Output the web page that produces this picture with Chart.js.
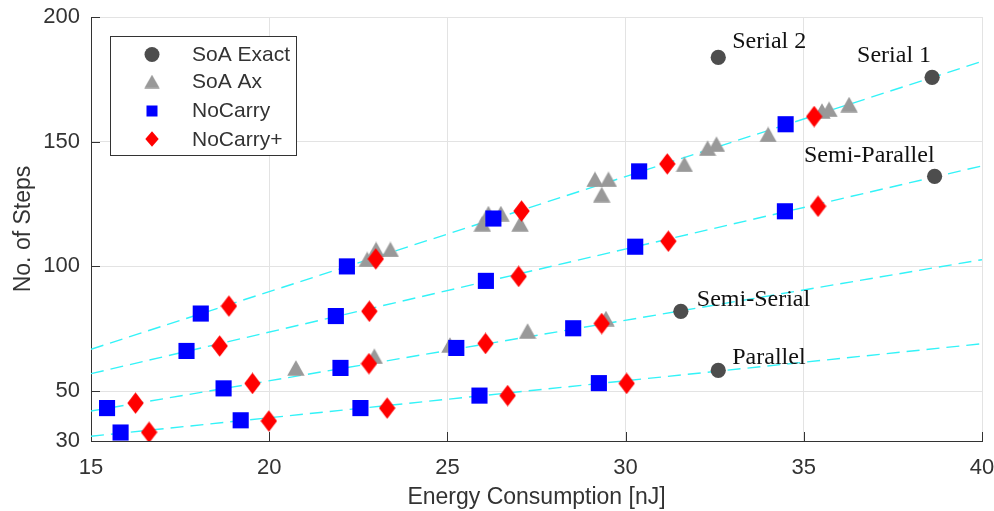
<!DOCTYPE html>
<html>
<head>
<meta charset="utf-8">
<script src="https://cdn.jsdelivr.net/npm/chart.js@4.4.0/dist/chart.umd.min.js"></script>
<style>
html,body{margin:0;padding:0;background:#fff;}
#wrap{width:994px;height:511px;position:relative;}
</style>
</head>
<body>
<div id="wrap"><canvas id="c" width="994" height="511"></canvas></div>
<script>
// ---------- data ----------
const seriesNames = ['SoA Exact', 'SoA Ax', 'NoCarry', 'NoCarry+'];
const xTicks = [15, 20, 25, 30, 35, 40];
const yTicks = [30, 50, 100, 150, 200];

const exactX = [32.6, 38.6, 38.67, 31.55, 32.6];
const exactY = [183.8, 175.8, 136.1, 82.0, 58.3];
const exactNames = ['Serial 2', 'Serial 1', 'Semi-Parallel', 'Semi-Serial', 'Parallel'];

const axX = [20.75, 22.95, 25.07, 27.25, 29.45, 22.75, 23.0, 23.4, 25.98, 26.15, 26.5, 27.04, 29.14, 29.52, 29.33, 31.65, 32.3, 32.55, 34.0, 35.51, 35.71, 36.27];
const axY = [59.3, 64.0, 68.5, 74.1, 79.1, 102.8, 106.8, 106.8, 117.1, 121.2, 121.2, 117.1, 134.9, 134.9, 128.8, 140.9, 147.4, 149.0, 152.9, 162.3, 163.0, 164.9];

const noCarryX = [15.45, 15.83, 17.68, 18.08, 18.72, 19.2, 21.87, 22.0, 22.18, 22.56, 25.25, 25.9, 26.08, 26.29, 28.53, 29.25, 30.27, 30.38, 34.47, 34.49];
const noCarryY = [43.2, 33.4, 66.1, 81.1, 51.1, 38.3, 80.1, 59.3, 100.0, 43.2, 67.3, 48.2, 94.2, 119.2, 75.2, 53.2, 107.9, 138.1, 122.1, 157.0];

const noCarryPX = [16.25, 16.63, 18.61, 18.87, 19.53, 19.99, 22.81, 22.8, 22.99, 23.31, 26.07, 26.69, 27.0, 27.08, 29.33, 30.03, 31.2, 31.17, 35.4, 35.29];
const noCarryPY = [45.2, 33.5, 68.1, 84.1, 53.1, 38.0, 82.0, 61.0, 103.0, 43.2, 69.1, 48.2, 96.0, 122.2, 77.1, 53.1, 110.1, 141.1, 124.1, 160.1];

// dashed trend lines (end points)
const trendX = [15, 40];
const trendSerial = [66.8, 182.2];
const trendSemiParallel = [57.0, 140.3];
const trendSemiSerial = [42.0, 102.7];
const trendParallel = [31.9, 69.0];

// ---------- styles ----------
const SANS = "'Liberation Sans', Arial, Helvetica, sans-serif";
const SERIF = "'Liberation Serif', 'Times New Roman', serif";
const C_EXACT = '#4d4d4d', C_AX = '#999999', C_NC = '#0000ff', C_NCP = '#ff0000';
const TXT = '#333333';

function makeTriangle(w, h, color) {
  const c = document.createElement('canvas');
  c.width = w; c.height = h;
  const g = c.getContext('2d');
  g.fillStyle = color;
  g.beginPath();
  g.moveTo(w / 2, 0.3);
  g.lineTo(w - 0.3, h - 0.3);
  g.lineTo(0.3, h - 0.3);
  g.closePath();
  g.fill();
  return c;
}
function makeDiamond(w, h, color) {
  const c = document.createElement('canvas');
  c.width = w; c.height = h;
  const g = c.getContext('2d');
  g.fillStyle = color;
  g.beginPath();
  g.moveTo(w / 2, 0.3);
  g.lineTo(w - 0.3, h / 2);
  g.lineTo(w / 2, h - 0.3);
  g.lineTo(0.3, h / 2);
  g.closePath();
  g.fill();
  return c;
}
const triImg = makeTriangle(18, 16, C_AX);
const diaImg = makeDiamond(17, 22, C_NCP);

const pts = (xs, ys) => xs.map((x, i) => ({ x: x, y: ys[i] }));
const trend = (ys) => ({
  type: 'line',
  data: pts(trendX, ys),
  borderColor: '#33f3f8',
  borderWidth: 1.4,
  borderDash: [13, 7],
  pointRadius: 0,
  fill: false,
  order: 10
});

const extras = {
  id: 'extras',
  beforeDatasetsDraw(chart) {
    const ctx = chart.ctx;
    const xs = chart.scales.x, ys = chart.scales.y;
    const a = chart.chartArea;
    ctx.save();
    ctx.strokeStyle = '#333';
    ctx.lineWidth = 1;
    ctx.beginPath();
    xTicks.forEach(v => {
      const px = Math.round(xs.getPixelForValue(v)) + 0.5;
      ctx.moveTo(px, a.bottom);
      ctx.lineTo(px, a.bottom - 9);
    });
    yTicks.forEach(v => {
      const py = Math.round(ys.getPixelForValue(v)) + 0.5;
      ctx.moveTo(a.left, py);
      ctx.lineTo(a.left + 9, py);
    });
    ctx.stroke();
    ctx.restore();
  },
  afterDraw(chart) {
    const ctx = chart.ctx;
    const xs = chart.scales.x, ys = chart.scales.y;
    ctx.save();
    // annotations next to SoA Exact points
    const offs = [
      { dx: 14, dy: -9, align: 'left' },
      { dx: -1, dy: -15, align: 'right' },
      { dx: 0, dy: -14, align: 'right' },
      { dx: 16, dy: -5, align: 'left' },
      { dx: 14, dy: -6, align: 'left' }
    ];
    ctx.font = "24px " + SERIF;
    ctx.fillStyle = '#111';
    ctx.textBaseline = 'alphabetic';
    exactNames.forEach((name, i) => {
      const px = xs.getPixelForValue(exactX[i]);
      const py = ys.getPixelForValue(exactY[i]);
      ctx.textAlign = offs[i].align;
      ctx.fillText(name, px + offs[i].dx, py + offs[i].dy);
    });

    // legend box
    const L = { x: 110.5, y: 36.5, w: 186, h: 119 };
    ctx.fillStyle = '#fff';
    ctx.fillRect(L.x, L.y, L.w, L.h);
    ctx.strokeStyle = '#333';
    ctx.lineWidth = 1;
    ctx.strokeRect(L.x, L.y, L.w, L.h);
    const rows = [54.5, 81.5, 110.5, 139];
    const mx = 152, tx = 192;
    ctx.fillStyle = C_EXACT;
    ctx.beginPath(); ctx.arc(mx, rows[0], 7.5, 0, Math.PI * 2); ctx.fill();
    ctx.drawImage(makeTriangle(16, 14, C_AX), mx - 8, rows[1] - 7);
    ctx.fillStyle = C_NC;
    ctx.fillRect(mx - 5.5, rows[2] - 5, 11, 11);
    ctx.drawImage(makeDiamond(14, 16, C_NCP), mx - 7, rows[3] - 8);
    ctx.font = "21px " + SANS;
    ctx.fillStyle = TXT;
    ctx.textAlign = 'left';
    ctx.textBaseline = 'middle';
    seriesNames.forEach((n, i) => ctx.fillText(n, tx, rows[i] + 1));
    ctx.restore();
  }
};

new Chart(document.getElementById('c'), {
  type: 'scatter',
  data: {
    datasets: [
      { label: seriesNames[3], data: pts(noCarryPX, noCarryPY), pointStyle: diaImg, backgroundColor: C_NCP, order: 0 },
      { label: seriesNames[2], data: pts(noCarryX, noCarryY), pointStyle: 'rect', pointRadius: 11.4, borderWidth: 0, backgroundColor: C_NC, borderColor: C_NC, order: 1 },
      { label: seriesNames[1], data: pts(axX, axY), pointStyle: triImg, backgroundColor: C_AX, order: 2 },
      { label: seriesNames[0], data: pts(exactX, exactY), pointStyle: 'circle', pointRadius: 7.6, borderWidth: 0, backgroundColor: C_EXACT, borderColor: C_EXACT, order: 3 },
      trend(trendSerial),
      trend(trendSemiParallel),
      trend(trendSemiSerial),
      trend(trendParallel)
    ]
  },
  options: {
    responsive: false,
    animation: false,
    events: [],
    layout: { padding: { top: 17, right: 12, left: 0, bottom: 0 } },
    plugins: { legend: { display: false }, tooltip: { enabled: false } },
    scales: {
      x: {
        type: 'linear', min: 15, max: 40,
        afterBuildTicks: s => { s.ticks = xTicks.map(v => ({ value: v })); },
        afterFit: s => { s.height = 70; s.paddingLeft = 0; s.paddingRight = 0; },
        grid: { color: '#e3e3e3', lineWidth: 1, drawTicks: false },
        border: { display: true, color: '#333', width: 1 },
        ticks: { padding: 14, color: TXT, font: { family: SANS, size: 22 }, maxRotation: 0, autoSkip: false },
        title: { display: true, text: 'Energy Consumption [nJ]', color: TXT, font: { family: SANS, size: 23 }, padding: { top: 0, bottom: 0 } }
      },
      y: {
        type: 'linear', min: 30, max: 200,
        afterBuildTicks: s => { s.ticks = yTicks.map(v => ({ value: v })); },
        afterFit: s => { s.width = 91; s.paddingTop = 0; s.paddingBottom = 0; },
        grid: { color: '#e3e3e3', lineWidth: 1, drawTicks: false },
        border: { display: true, color: '#333', width: 1 },
        ticks: { padding: 11, color: TXT, font: { family: SANS, size: 22 }, autoSkip: false },
        title: { display: true, text: 'No. of Steps', color: TXT, font: { family: SANS, size: 23 }, padding: { top: 10, bottom: 0 } }
      }
    }
  },
  plugins: [extras]
});
</script>
</body>
</html>
